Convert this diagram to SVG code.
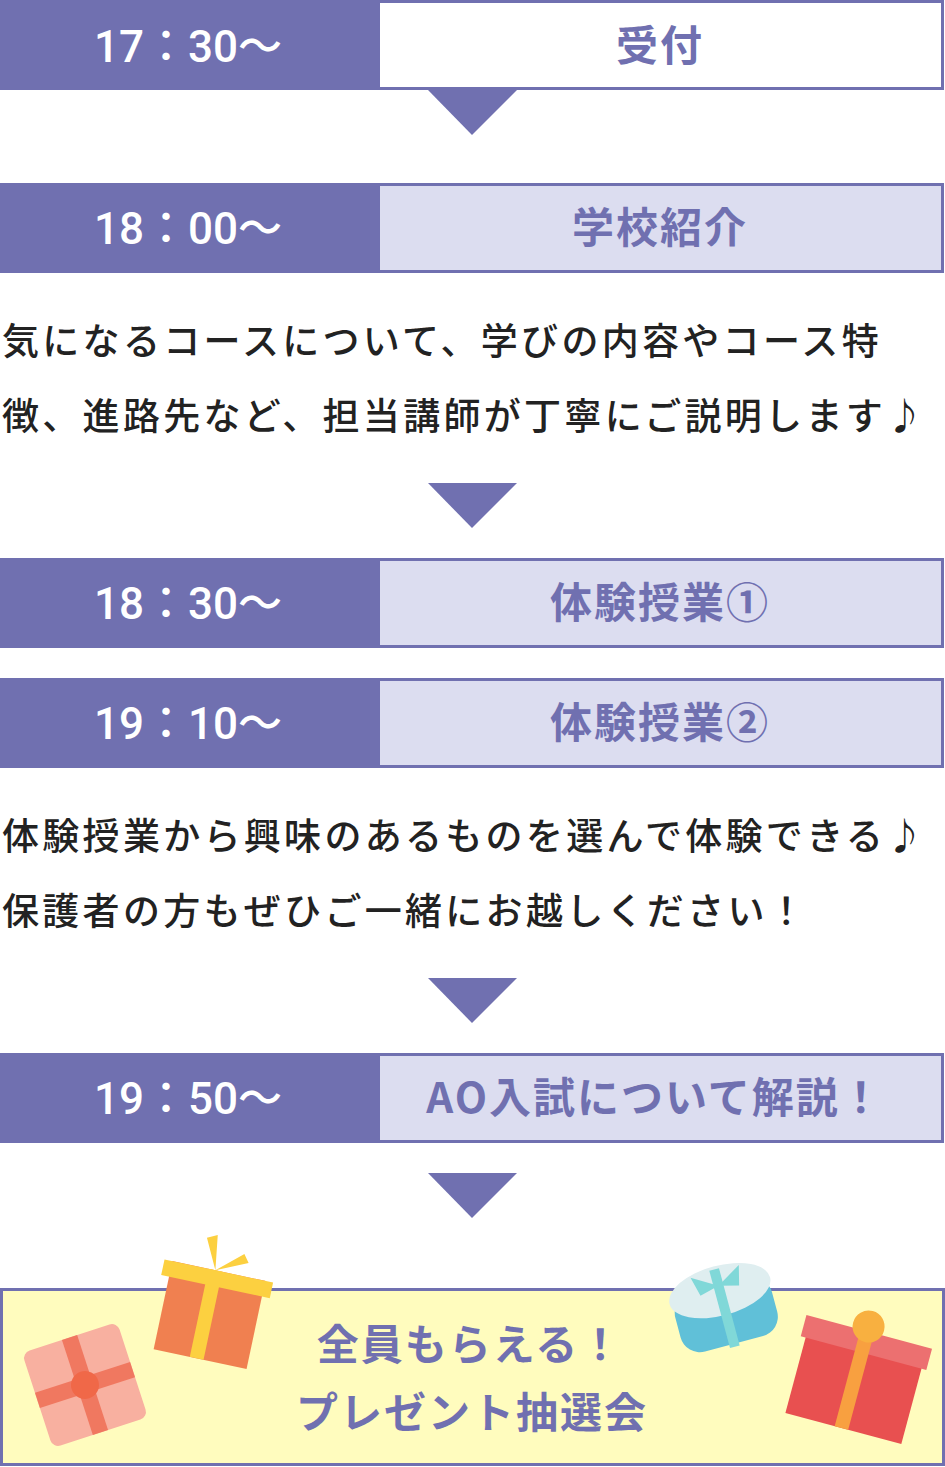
<svg xmlns="http://www.w3.org/2000/svg" width="945" height="1467" viewBox="0 0 945 1467">
<style>
.tl{fill:#7070b0}
.bx{fill:#dcddf0;stroke:#7070b0;stroke-width:3}
.tm{font-family:"Roboto","Noto Sans CJK JP",sans-serif;font-size:44px;fill:#fff;text-anchor:middle;font-weight:500}
.tt{font-family:"Noto Sans CJK JP",sans-serif;font-size:42px;letter-spacing:2px;fill:#7070b0;text-anchor:middle;font-weight:700}
.p{font-family:"Noto Sans CJK JP",sans-serif;font-size:37px;letter-spacing:3.3px;fill:#222;font-weight:500}
</style>
<rect width="945" height="1467" fill="#fff"/>
<g id="row1"><rect class="tl" x="0" y="0" width="380" height="90"/><rect class="bx" x="378.5" y="1.5" width="564" height="87" style="fill:#fff"/><text class="tm" x="188" y="62">17：30～</text><text class="tt" x="660" y="61">受付</text></g>
<g id="row2"><rect class="tl" x="0" y="183" width="380" height="90"/><rect class="bx" x="378.5" y="184.5" width="564" height="87"/><text class="tm" x="188" y="244">18：00～</text><text class="tt" x="660" y="243">学校紹介</text></g>
<g id="desc1"><text class="p" x="2" y="355">気になるコースについて、学びの内容やコース特</text><text class="p" x="2" y="430">徴、進路先など、担当講師が丁寧にご説明します♪</text></g>
<g id="row3"><rect class="tl" x="0" y="558" width="380" height="90"/><rect class="bx" x="378.5" y="559.5" width="564" height="87"/><text class="tm" x="188" y="619">18：30～</text><text class="tt" x="660" y="618">体験授業①</text></g>
<g id="row4"><rect class="tl" x="0" y="678" width="380" height="90"/><rect class="bx" x="378.5" y="679.5" width="564" height="87"/><text class="tm" x="188" y="739">19：10～</text><text class="tt" x="660" y="738">体験授業②</text></g>
<g id="desc2"><text class="p" x="2" y="850">体験授業から興味のあるものを選んで体験できる♪</text><text class="p" x="2" y="925">保護者の方もぜひご一緒にお越しください！</text></g>
<g id="row5"><rect class="tl" x="0" y="1053" width="380" height="90"/><rect class="bx" x="378.5" y="1054.5" width="564" height="87"/><text class="tm" x="188" y="1114">19：50～</text><text class="tt" x="655" y="1113">AO入試について解説！</text></g>
<g id="connectors" class="tl">
<polygon points="428,90 517,90 472,135"/>
<polygon points="428,483 517,483 472,528"/>
<polygon points="428,978 517,978 472,1023"/>
<polygon points="428,1173 517,1173 472,1218"/>
</g>
<g id="present">
<rect x="1.5" y="1289.5" width="942" height="175" fill="#fffcbe" stroke="#7070b0" stroke-width="3"/>
<g transform="rotate(-18 85 1385)"><rect x="35" y="1335" width="100" height="100" rx="8" fill="#f8b0a0"/><rect x="35" y="1377" width="100" height="16" fill="#f07860"/><rect x="77" y="1335" width="16" height="100" fill="#f07860"/><circle cx="85" cy="1385" r="14" fill="#f06848"/></g>
<g transform="rotate(12 210 1310)"><rect x="163" y="1270" width="95" height="90" fill="#f08050"/><rect x="155" y="1270" width="111" height="16" fill="#fcd040"/><rect x="200" y="1270" width="14" height="90" fill="#fcd040"/><path d="M207 1270 l-15 -30 l10 -5 z M207 1270 l25 -22 l6 8 z" fill="#fcd040"/></g>
<g transform="rotate(-15 725 1310)"><rect x="675" y="1285" width="100" height="60" rx="20" fill="#60c0d8"/><ellipse cx="725" cy="1290" rx="52" ry="25" fill="#dfeef0"/><rect x="720" y="1268" width="10" height="80" fill="#80d8d8"/><path d="M725 1285 l-25 -15 l5 20 z M725 1285 l25 -15 l-5 20 z" fill="#80d8d8"/></g>
<g transform="rotate(15 855 1385)"><rect x="795" y="1335" width="120" height="95" fill="#e85050"/><rect x="790" y="1330" width="130" height="22" fill="#ec7070"/><rect x="846" y="1330" width="14" height="100" fill="#f8a040"/><circle cx="853" cy="1325" r="16" fill="#f8b040"/></g>
<text class="tt" x="470" y="1360">全員もらえる！</text>
<text class="tt" x="472" y="1428">プレゼント抽選会</text>
</g>
</svg>
